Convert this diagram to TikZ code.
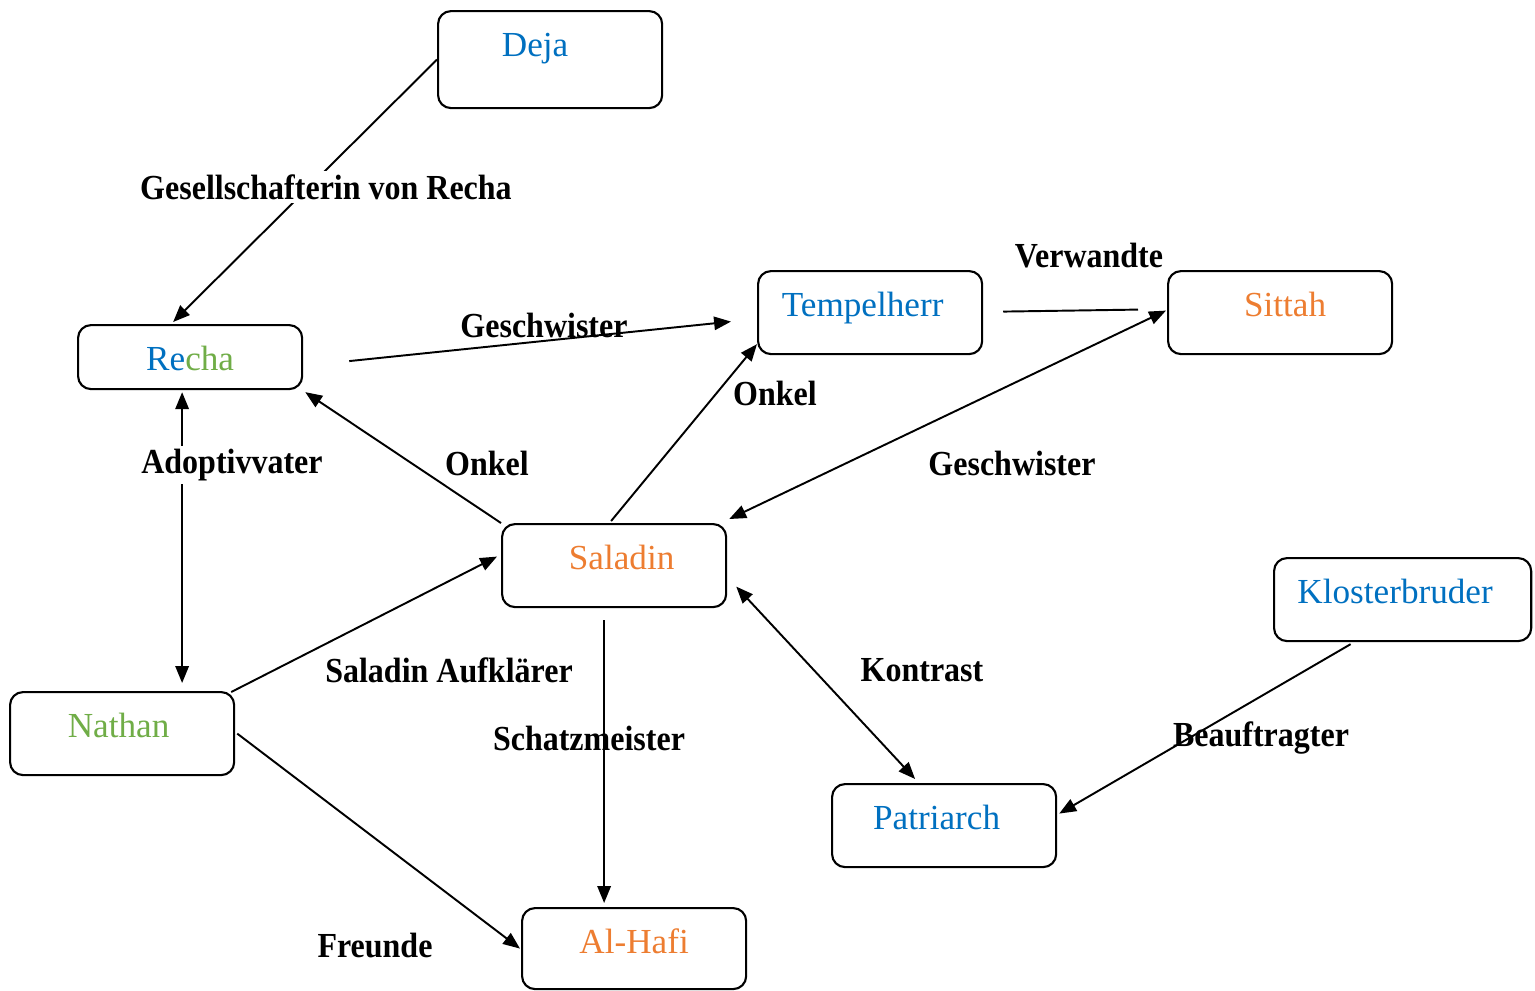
\documentclass[tikz,border=0pt]{standalone}
\usepackage{fontspec}
\setmainfont{Liberation Serif}
\newfontfamily\relfont[FakeStretch=0.91]{Liberation Serif}
\usepackage{xcolor}
\usetikzlibrary{arrows.meta,calc}

\definecolor{blau}{HTML}{0070C0}
\definecolor{gruen}{HTML}{70AD47}
\definecolor{orange}{HTML}{ED7D31}

\begin{document}
\begin{tikzpicture}[x=0.01cm,y=-0.01cm,
    figur/.style={draw, line width=0.6pt, rounded corners=0.13cm, anchor=north west,
        minimum width=2.24cm, inner ysep=0pt, text height=0.45cm, text depth=0.38cm,
        font=\fontsize{10}{12}\selectfont},
    rel/.style={font=\relfont\fontsize{10}{12}\selectfont\bfseries, inner sep=1pt},
    pfeil/.style={line width=0.55pt, -{Triangle[length=4.8pt,width=3.8pt]}},
    doppel/.style={line width=0.55pt, {Triangle[length=4.8pt,width=3.8pt]}-{Triangle[length=4.8pt,width=3.8pt]}}]
    \useasboundingbox (0,0) rectangle (1535,990);

    % Figuren
    \node at (437,10) [figur, text depth=0.52cm, text=blau] (deja) {Deja\hspace*{0.3cm}};
    \node at (77,324) [figur, text depth=0.19cm] (recha) {\textcolor{blau}{Re}\textcolor{gruen}{cha}};
    \node at (757,270) [figur, text=blau] (tempel) {Tempelherr\hspace*{0.15cm}};
    \node at (1167,270) [figur, text=orange] (sittah) {\hspace*{0.1cm}Sittah};
    \node at (501,523) [figur, text=orange] (saladin) {\hspace*{0.15cm}Saladin};
    \node at (1273,557) [figur, minimum width=2.57cm, text=blau] (kloster) {Klosterbruder\hspace*{0.15cm}};
    \node at (9,691) [figur, text=gruen] (nathan) {Nathan\hspace*{0.07cm}};
    \node at (831,783) [figur, text=blau] (patri) {Patriarch\hspace*{0.15cm}};
    \node at (521,907) [figur, text depth=0.36cm, text=orange] (alhafi) {Al-Hafi};

    % Beziehungen
    \draw[pfeil] (deja.west) -- ($(recha.north)+(-17,-2)$);
    \draw[pfeil] ($(recha.east)+(46,4)$) -- ($(tempel.west)+(-26,9)$);
    \draw[line width=0.55pt] ($(tempel.east)+(20,-1)$) -- ($(sittah.west)+(-29,-3)$);
    \draw[pfeil] (saladin.north west) -- ($(recha.south east)+(2,2)$);
    \draw[pfeil] ($(saladin.north)+(-3,-2)$) -- ($(tempel.south west)+(0,-11)$);
    \draw[doppel] ($(sittah.west)+(-1,-2)$) -- ($(saladin.north east)+(2,-4)$);
    \draw[doppel] ($(recha.south)+(-8,2)$) -- ($(nathan.north)+(60,-8)$);
    \draw[pfeil] ($(nathan.north east)+(-4,1)$) -- ($(saladin.west)+(-4,-9)$);
    \draw[pfeil] ($(saladin.south)+(-10,12)$) -- ($(alhafi.north)+(-30,-4)$);
    \draw[pfeil] ($(nathan.east)+(2,0)$) -- ($(alhafi.west)+(-1,0)$);
    \draw[doppel] ($(saladin.east)+(9,21)$) -- ($(patri.north)+(-29,-4)$);
    \draw[pfeil] ($(kloster.south)+(-52,2)$) -- ($(patri.east)+(2,-12)$);

    % Beschriftungen
    \node at (326,187) [rel, fill=white] (gesell) {Gesellschafterin von Recha};
    \node at (544,325) [rel] (geschw1) {Geschwister};
    \node at (1089,256) [rel] (verw) {Verwandte};
    \node at (487,463) [rel] (onkel1) {Onkel};
    \node at (775,393) [rel] (onkel2) {Onkel};
    \node at (1012,463) [rel] (geschw2) {Geschwister};
    \node at (232,465) [rel, fill=white] (adopt) {Adoptivvater};
    \node at (449,670) [rel] (aufkl) {Saladin Aufklärer};
    \node at (589,738) [rel] (schatz) {Schatzmeister};
    \node at (375,946) [rel] (freunde) {Freunde};
    \node at (922,670) [rel] (kontrast) {Kontrast};
    \node at (1261,738) [rel] (beauf) {Beauftragter};
\end{tikzpicture}
\end{document}
